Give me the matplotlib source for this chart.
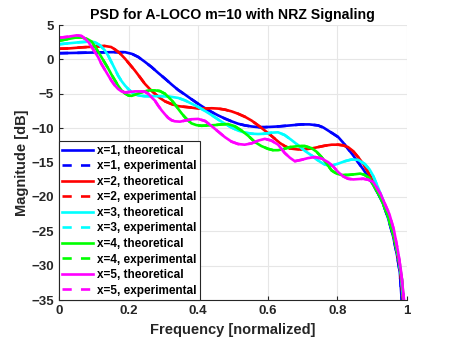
"""PSD of A-LOCO (m=10) codes with NRZ signaling, theoretical vs experimental."""

import matplotlib
matplotlib.use("Agg")
import matplotlib.pyplot as plt

# values (normalized frequency, dB)
f1 = [0, 0.05, 0.1, 0.15, 0.19, 0.21, 0.228, 0.247, 0.266, 0.285, 0.305, 0.324,
      0.343, 0.362, 0.38, 0.4, 0.42, 0.439, 0.458, 0.477, 0.496, 0.515, 0.535,
      0.554, 0.573, 0.592, 0.63, 0.664, 0.697, 0.72, 0.745, 0.76, 0.774, 0.788,
      0.803, 0.817, 0.831, 0.845, 0.86, 0.875, 0.889, 0.903, 0.918, 0.932,
      0.947, 0.961, 0.972, 0.98, 0.986, 0.992]
x1 = [0.9, 0.95, 1.0, 1.05, 1.05, 0.8, 0.35, -0.35, -1.1, -1.95, -2.8, -3.65,
      -4.45, -5.1, -5.75, -6.45, -7.1, -7.65, -8.15, -8.6, -9.0, -9.35, -9.6,
      -9.75, -9.85, -9.85, -9.75, -9.6, -9.45, -9.45, -9.6, -9.9, -10.35, -10.8,
      -11.3, -12.1, -13.0, -13.9, -14.95, -16.0, -17.1, -18.2, -19.55, -21.0,
      -23.2, -25.8, -28.5, -31.0, -35.5, -39.0]

f2 = [0, 0.03, 0.065, 0.1, 0.132, 0.15, 0.161, 0.175, 0.19, 0.204, 0.218, 0.233,
      0.247, 0.262, 0.276, 0.29, 0.305, 0.324, 0.343, 0.362, 0.38, 0.4, 0.42,
      0.439, 0.458, 0.477, 0.496, 0.515, 0.535, 0.554, 0.573, 0.592, 0.607,
      0.621, 0.635, 0.649, 0.664, 0.688, 0.707, 0.726, 0.745, 0.764, 0.784,
      0.803, 0.817, 0.831, 0.845, 0.86, 0.875, 0.889, 0.903, 0.918, 0.932,
      0.947, 0.962, 0.974, 0.982, 0.988, 0.994]
x2 = [1.55, 1.6, 1.75, 1.85, 1.95, 1.8, 1.45, 0.9, 0.1, -0.75, -1.6, -2.6,
      -3.55, -4.35, -5.0, -5.6, -6.1, -6.5, -6.8, -6.9, -7.0, -7.15, -7.15,
      -7.1, -7.15, -7.3, -7.55, -7.9, -8.35, -8.9, -9.6, -10.35, -10.95,
      -11.55, -12.15, -12.6, -12.95, -13.1, -13.05, -12.95, -12.75, -12.55,
      -12.4, -12.4, -12.5, -12.75, -13.3, -14.2, -15.2, -16.4, -17.6, -19.0,
      -20.6, -22.8, -25.6, -28.5, -31.0, -34.5, -38.5]

f3 = [0, 0.03, 0.06, 0.09, 0.103, 0.118, 0.132, 0.142, 0.151, 0.161, 0.17, 0.18,
      0.19, 0.2, 0.209, 0.218, 0.228, 0.247, 0.266, 0.285, 0.305, 0.324, 0.343,
      0.362, 0.38, 0.4, 0.42, 0.439, 0.458, 0.477, 0.496, 0.515, 0.535, 0.554,
      0.573, 0.592, 0.611, 0.63, 0.649, 0.668, 0.688, 0.707, 0.726, 0.745,
      0.764, 0.784, 0.803, 0.822, 0.841, 0.86, 0.879, 0.893, 0.903, 0.918,
      0.932, 0.947, 0.963, 0.976, 0.984, 0.99, 0.996]
x3 = [2.2, 2.35, 2.5, 2.6, 2.5, 2.05, 1.3, 0.5, -0.4, -1.4, -2.35, -3.15,
      -3.8, -4.35, -4.75, -5.05, -5.25, -5.35, -5.35, -5.35, -5.35, -5.45, -5.6,
      -5.95, -6.4, -6.9, -7.5, -8.1, -8.75, -9.35, -9.9, -10.35, -10.65, -10.8,
      -10.85, -10.8, -10.65, -10.6, -11.0, -11.7, -12.5, -13.3, -13.95, -14.7,
      -15.3, -15.45, -15.15, -14.8, -14.55, -14.6, -15.2, -16.0, -16.9, -18.7,
      -20.5, -22.8, -25.6, -28.8, -31.5, -35.0, -39.0]

f4 = [0, 0.025, 0.046, 0.065, 0.08, 0.094, 0.103, 0.113, 0.122, 0.132, 0.142,
      0.151, 0.161, 0.17, 0.18, 0.19, 0.2, 0.209, 0.218, 0.233, 0.247, 0.262,
      0.276, 0.29, 0.305, 0.314, 0.324, 0.333, 0.343, 0.352, 0.362, 0.372,
      0.381, 0.395, 0.41, 0.429, 0.448, 0.467, 0.486, 0.505, 0.525, 0.544,
      0.563, 0.582, 0.601, 0.616, 0.63, 0.645, 0.664, 0.688, 0.707, 0.726,
      0.74, 0.755, 0.77, 0.784, 0.798, 0.812, 0.831, 0.851, 0.866, 0.879,
      0.893, 0.903, 0.918, 0.932, 0.947, 0.963, 0.977, 0.986, 0.992, 0.997]
x4 = [2.7, 2.95, 3.15, 3.2, 3.0, 2.6, 1.9, 1.1, 0.35, -0.5, -1.35, -2.2, -3.05,
      -3.8, -4.5, -4.95, -5.25, -5.3, -5.15, -4.85, -4.65, -4.5, -4.5, -4.6,
      -5.0, -5.45, -5.95, -6.5, -7.2, -7.8, -8.4, -8.9, -9.3, -9.55, -9.65,
      -9.6, -9.55, -9.45, -9.4, -9.7, -10.35, -11.1, -12.0, -12.6, -13.0,
      -13.2, -13.2, -13.05, -12.75, -12.6, -12.6, -12.9, -13.4, -14.2, -15.2,
      -16.15, -16.6, -16.8, -16.8, -16.7, -16.6, -16.8, -17.3, -18.2, -19.5,
      -21.0, -23.0, -25.8, -29.0, -32.0, -35.5, -39.0]

f5 = [0, 0.027, 0.051, 0.065, 0.075, 0.085, 0.094, 0.103, 0.113, 0.122, 0.132,
      0.142, 0.151, 0.161, 0.17, 0.18, 0.19, 0.2, 0.218, 0.233, 0.247, 0.257,
      0.266, 0.276, 0.285, 0.295, 0.305, 0.314, 0.324, 0.333, 0.348, 0.362,
      0.381, 0.4, 0.42, 0.439, 0.458, 0.477, 0.496, 0.515, 0.534, 0.554, 0.573,
      0.592, 0.611, 0.63, 0.649, 0.664, 0.678, 0.697, 0.716, 0.736, 0.755,
      0.774, 0.789, 0.803, 0.817, 0.831, 0.846, 0.86, 0.875, 0.889, 0.903,
      0.913, 0.925, 0.937, 0.95, 0.963, 0.975, 0.984, 0.991, 0.997]
x5 = [3.15, 3.3, 3.5, 3.4, 3.0, 2.5, 1.8, 1.1, 0.3, -0.65, -1.5, -2.35, -3.1,
      -3.8, -4.3, -4.65, -4.8, -4.75, -4.65, -4.65, -4.7, -5.0, -5.5, -6.0,
      -6.7, -7.4, -8.0, -8.5, -8.85, -9.0, -9.05, -8.9, -8.7, -8.65, -8.95,
      -9.7, -10.5, -11.3, -11.95, -12.3, -12.4, -12.2, -11.8, -11.55, -11.8,
      -12.4, -13.6, -14.3, -14.8, -14.6, -14.35, -14.2, -14.4, -14.95, -15.6,
      -16.4, -17.0, -17.35, -17.45, -17.4, -17.35, -17.5, -17.8, -18.6, -19.6,
      -21.0, -22.5, -24.8, -28.0, -31.0, -34.5, -39.0]

freqs = [f1, f2, f3, f4, f5]
theory = [x1, x2, x3, x4, x5]
exper = [x1, x2, x3, x4, x5]   # measured curves sit on top of theory
colors = ["#0000ff", "#ff0000", "#00ffff", "#00ff00", "#ff00ff"]
xticks = [0, 0.2, 0.4, 0.6, 0.8, 1]
xticklabels = ["0", "0.2", "0.4", "0.6", "0.8", "1"]
yticks = [-35, -30, -25, -20, -15, -10, -5, 0, 5]

plt.rcParams["font.family"] = ["Liberation Sans", "DejaVu Sans"]
plt.rcParams["font.weight"] = "bold"

fig = plt.figure(figsize=(4.5, 3.38), dpi=100)
ax = fig.add_axes([0.131, 0.112, 0.773, 0.814])

for i in range(5):
    ax.plot(freqs[i], theory[i], color=colors[i], lw=1.9,
            label=f"x={i + 1}, theoretical")
    ax.plot(freqs[i], exper[i], color=colors[i], lw=1.9, ls=(0, (3.5, 3.5)),
            label=f"x={i + 1}, experimental")

ax.set_xlim(0, 1)
ax.set_ylim(-35, 5)
ax.set_xticks(xticks)
ax.set_xticklabels(xticklabels)
ax.set_yticks(yticks)
ax.grid(True, color="#e6e6e6", lw=0.8)
ax.set_axisbelow(True)
for s in ["top", "right"]:
    ax.spines[s].set_visible(False)
for s in ["left", "bottom"]:
    ax.spines[s].set_color("#262626")
ax.tick_params(direction="in", length=3, colors="#262626", labelsize=9.5)
for lab in ax.get_xticklabels() + ax.get_yticklabels():
    lab.set_fontweight("bold")

ax.set_title("PSD for A-LOCO m=10 with NRZ Signaling", fontsize=10.2,
             fontweight="bold", pad=4)
ax.set_xlabel("Frequency [normalized]", fontsize=10.5, fontweight="bold",
              color="#262626", labelpad=4)
ax.set_ylabel("Magnitude [dB]", fontsize=10.5, fontweight="bold",
              color="#262626", labelpad=2)

leg = ax.legend(loc="lower left", borderaxespad=0,
                handlelength=2.6, handletextpad=0.35, labelspacing=0.3,
                borderpad=0.3, fancybox=False, framealpha=1,
                edgecolor="#262626", prop={"weight": "bold", "size": 8.5})
leg.get_frame().set_linewidth(0.8)

fig.savefig("out.png", dpi=100)
